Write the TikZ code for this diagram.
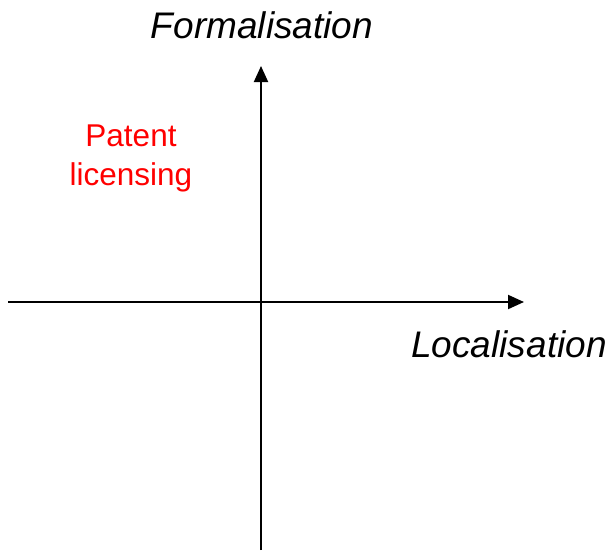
\documentclass[tikz,border=0pt]{standalone}
\usepackage{fontspec}
\setmainfont{Liberation Sans}
\usetikzlibrary{arrows.meta}
\begin{document}
\begin{tikzpicture}[x=1pt,y=-1pt,
  axis/.style={line width=2pt,-{Triangle[length=16pt,width=14pt]}},
  axislabel/.style={font=\fontsize{37}{44}\selectfont\itshape,anchor=base,inner sep=0pt},
  quadlabel/.style={font=\fontsize{31.5}{39}\selectfont,text=red,align=center,inner sep=0pt}]
  \useasboundingbox (0,0) rectangle (611,550);
  % axes
  \coordinate (xstart) at (8,302);
  \coordinate (xend) at (524,302);
  \coordinate (ystart) at (261,550);
  \coordinate (yend) at (261,66);
  \draw[axis] (xstart) -- (xend);
  \draw[axis] (ystart) -- (yend);
  % axis labels
  \node[axislabel] (ylab) at (262,38) {Formalisation};
  \node[axislabel] (xlab) at (509,357) {Localisation};
  % quadrant label (base anchor sits on the last line)
  \node[quadlabel,anchor=base] (patent) at (131,185) {Patent\\licensing};
\end{tikzpicture}
\end{document}
